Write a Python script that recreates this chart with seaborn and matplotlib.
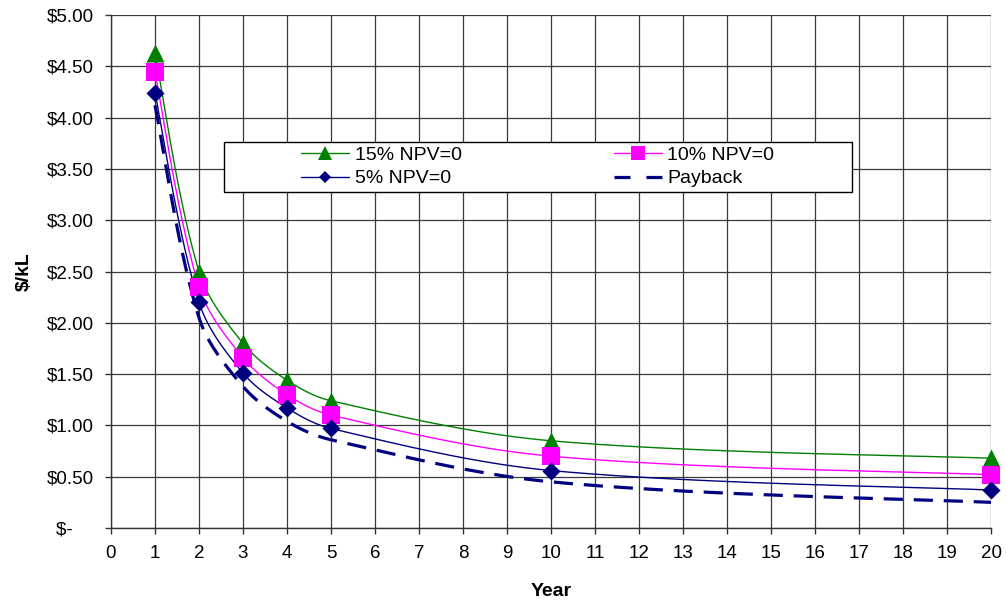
import numpy as np
import pandas as pd
import matplotlib
matplotlib.use("Agg")
import matplotlib.pyplot as plt
from matplotlib.lines import Line2D
from matplotlib.patches import Rectangle
from matplotlib.ticker import FixedLocator, FixedFormatter
import seaborn as sns

# ---- data ----
years = [1, 2, 3, 4, 5, 10, 20]
npv15 = [4.63, 2.50, 1.80, 1.44, 1.24, 0.85, 0.68]
npv10 = [4.44, 2.35, 1.66, 1.30, 1.10, 0.70, 0.52]
npv5 = [4.24, 2.20, 1.51, 1.17, 0.97, 0.56, 0.37]
payback = [4.12, 2.05, 1.38, 1.04, 0.86, 0.45, 0.25]
series_names = ["15% NPV=0", "10% NPV=0", "5% NPV=0", "Payback"]
x_ticks = list(range(0, 21))
y_ticks = [0, 0.5, 1.0, 1.5, 2.0, 2.5, 3.0, 3.5, 4.0, 4.5, 5.0]
y_tick_labels = ["$-    ", "$0.50", "$1.00", "$1.50", "$2.00", "$2.50",
                 "$3.00", "$3.50", "$4.00", "$4.50", "$5.00"]

sns.set_theme(style="white")
plt.rcParams["font.family"] = ["Liberation Sans", "DejaVu Sans"]
plt.rcParams["text.color"] = "black"
plt.rcParams["axes.labelcolor"] = "black"
plt.rcParams["xtick.color"] = "black"
plt.rcParams["ytick.color"] = "black"


def smooth(xs, ys, sx=44.0, sy=102.6, n=50):
    """Smoothed line through the points (cubic Bezier, chord-proportional handles),
    computed in screen-like scale."""
    P = np.column_stack([np.asarray(xs, float) * sx, np.asarray(ys, float) * sy])
    m = len(P)
    D = np.zeros_like(P)
    for i in range(m):
        a = P[i - 1] if i > 0 else P[i]
        b = P[i + 1] if i < m - 1 else P[i]
        d = b - a
        D[i] = d / np.linalg.norm(d)
    out = []
    for i in range(m - 1):
        p1, p2 = P[i], P[i + 1]
        L = np.linalg.norm(p2 - p1)
        k1 = 0.5 if i == 0 else 1.0
        k2 = 0.5 if i + 1 == m - 1 else 1.0
        c1 = p1 + D[i] * L / 3.0 * k1
        c2 = p2 - D[i + 1] * L / 3.0 * k2
        t = np.linspace(0, 1, n)[:, None]
        seg = ((1 - t) ** 3) * p1 + 3 * ((1 - t) ** 2) * t * c1 + 3 * (1 - t) * t ** 2 * c2 + t ** 3 * p2
        if i > 0:
            seg = seg[1:]
        out.append(seg)
    out = np.vstack(out)
    return out[:, 0] / sx, out[:, 1] / sy


fig = plt.figure(figsize=(10.06, 6.05), dpi=100)
ax = fig.add_axes([111 / 1006, 1 - 528 / 605, 880 / 1006, 513 / 605])

green = "#008000"
magenta = "#FF00FF"
navy = "#000080"

specs = [
    (npv15, green, "^", 13.0),
    (npv10, magenta, "s", 13.5),
    (npv5, navy, "D", 9.2),
]
for vals, col, mk, ms in specs:
    sx_, sy_ = smooth(years, vals)
    df = pd.DataFrame({"x": sx_, "y": sy_})
    sns.lineplot(data=df, x="x", y="y", sort=False, estimator=None, color=col,
                 linewidth=1.0, ax=ax, zorder=3)

# payback dashed
sx_, sy_ = smooth(years, payback)
dfp = pd.DataFrame({"x": sx_, "y": sy_})
sns.lineplot(data=dfp, x="x", y="y", sort=False, estimator=None, color=navy,
             linewidth=2.3, ax=ax, zorder=3)
ax.lines[-1].set_dashes((6.0, 3.4))
ax.lines[-1].set_dash_capstyle("butt")

for vals, col, mk, ms in specs:
    dfm = pd.DataFrame({"x": years, "y": vals})
    sns.scatterplot(data=dfm, x="x", y="y", marker=mk, s=ms ** 2, color=col,
                    edgecolor=col, linewidth=0, ax=ax, zorder=4, clip_on=False)

ax.set_xlim(0, 20)
ax.set_ylim(0, 5)
ax.xaxis.set_major_locator(FixedLocator(x_ticks))
ax.set_xticklabels([str(v) for v in x_ticks])
ax.yaxis.set_major_locator(FixedLocator(y_ticks))
ax.yaxis.set_major_formatter(FixedFormatter(y_tick_labels))

ax.grid(True, color="#3a3a3a", linewidth=0.9)
ax.set_axisbelow(True)
for s in ["top", "right"]:
    ax.spines[s].set_visible(False)
for s in ["left", "bottom"]:
    ax.spines[s].set_color("#333333")
    ax.spines[s].set_linewidth(1.0)
ax.tick_params(axis="both", which="major", direction="out", length=4, width=1,
               color="#333333", labelsize=13.5, labelcolor="black", pad=8.5,
               left=True, bottom=True)

ax.set_xlabel("Year", fontsize=14, fontweight="bold", labelpad=15, color="black")
ax.set_ylabel("$/kL", fontsize=14, fontweight="bold", labelpad=10, color="black")

# legend frame
frame = Rectangle((224 / 1006, 1 - 192 / 605), (852 - 224) / 1006, (192 - 142) / 605,
                  transform=fig.transFigure, facecolor="white", edgecolor="black",
                  linewidth=1.0, zorder=5, clip_on=False)
ax.add_patch(frame)

handles = [
    Line2D([], [], color=green, lw=1.0, marker="^", markersize=9.5, markeredgewidth=0),
    Line2D([], [], color=navy, lw=1.0, marker="D", markersize=5.8, markeredgewidth=0),
    Line2D([], [], color=magenta, lw=1.0, marker="s", markersize=10, markeredgewidth=0),
    Line2D([], [], color=navy, lw=2.3, dashes=(5.0, 5.0)),
]
labels = [series_names[0], series_names[2], series_names[1], series_names[3]]
leg = ax.legend(handles, labels, ncol=2, loc="upper left",
                bbox_to_anchor=(301 / 1006, 1 - 146 / 605),
                bbox_transform=fig.transFigure,
                frameon=False, fontsize=14, handlelength=2.47, handletextpad=0.3,
                borderpad=0, labelspacing=0.32, columnspacing=7.8,
                borderaxespad=0)
leg.set_zorder(6)

fig.savefig("out.png", dpi=100, facecolor="white")
